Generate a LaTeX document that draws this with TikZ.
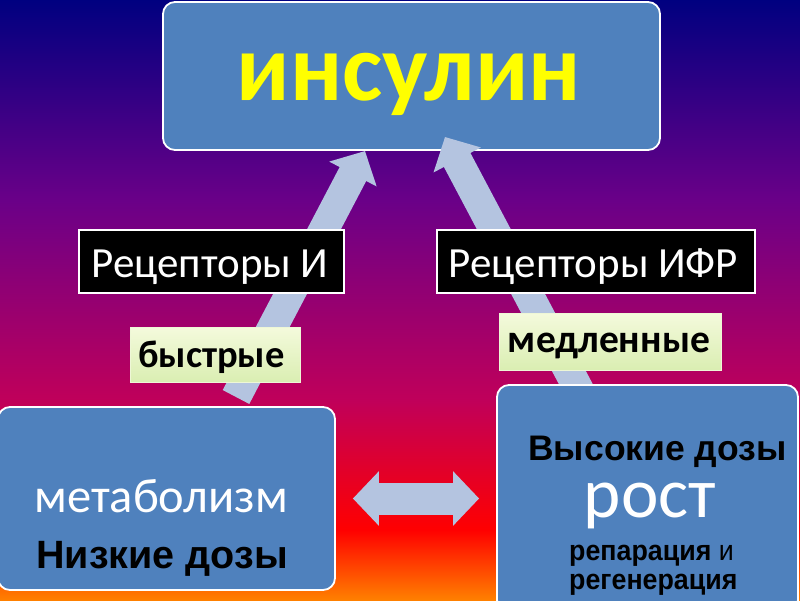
\documentclass[tikz,border=0pt]{standalone}
\usepackage{fontspec}
\setmainfont{Carlito}
\newfontfamily\arialf{Liberation Sans}
\newfontfamily\arialn[FakeStretch=0.94]{Liberation Sans}
\usetikzlibrary{arrows.meta,calc}
\definecolor{boxblue}{HTML}{4F81BD}
\definecolor{arrowblue}{HTML}{B4C4E0}
\definecolor{bgA}{HTML}{000080}
\definecolor{bgB}{HTML}{6A0088}
\definecolor{bgC}{HTML}{C0005A}
\definecolor{bgD}{HTML}{FF0000}
\definecolor{bgE}{HTML}{FF8000}
\definecolor{greentop}{HTML}{F4FADC}
\definecolor{greenbot}{HTML}{DAEEB2}
\definecolor{greenedge}{HTML}{EEF7D6}
\definecolor{insyellow}{HTML}{FFFF00}
\begin{document}
\begin{tikzpicture}[x=1pt,y=-1pt,
  bluebox/.style={draw=white, line width=1.8pt, fill=boxblue, rounded corners=12pt, inner sep=0pt},
  blackbox/.style={draw=white, line width=1.8pt, fill=black, inner sep=0pt},
  greenbox/.style={draw=greenedge, line width=1pt, top color=greentop, bottom color=greenbot, inner sep=0pt},
  fatarrow/.style={draw=arrowblue, line width=30pt, -{Triangle[length=26pt,width=52pt]}},
  dblarrow/.style={draw=arrowblue, line width=32pt, {Triangle[length=26pt,width=53pt]}-{Triangle[length=26pt,width=53pt]}},
  txt/.style={anchor=base, inner sep=0pt}]
\useasboundingbox (0,0) rectangle (800,600);
% background gradient
\fill[top color=bgA, bottom color=bgB] (0,0) rectangle (800,200.5);
\fill[top color=bgB, bottom color=bgC] (0,200) rectangle (800,400.5);
\fill[top color=bgC, bottom color=bgD] (0,400) rectangle (800,530.5);
\fill[top color=bgD, bottom color=bgE] (0,530) rectangle (800,600);
% top box
\node[bluebox, minimum width=497pt, minimum height=148pt] (ins) at (411.5,76) {};
% connector ends
\coordinate (lfoot) at (236,397);
\coordinate (ltip) at (365,151);
\coordinate (rfoot) at (580,392);
\coordinate (rtip) at (445,137);
\draw[fatarrow] (lfoot) -- (ltip);
\draw[fatarrow] (rfoot) -- (rtip);
% receptor boxes
\node[blackbox, minimum width=265pt, minimum height=63pt] (recI) at (211.5,261.5) {};
\node[blackbox, minimum width=318pt, minimum height=63pt] (recIFR) at (596,261.5) {};
% speed boxes
\node[greenbox, minimum width=170pt, minimum height=55pt] (fast) at (215.5,354.5) {};
\node[greenbox, minimum width=222pt, minimum height=57pt] (slow) at (610.5,341.5) {};
% bottom boxes
\node[bluebox, minimum width=337pt, minimum height=183pt] (met) at (166.5,498.5) {};
\node[bluebox, minimum width=301pt, minimum height=227pt] (rost) at (647.5,498.5) {};
\draw[dblarrow] ([xshift=17pt]met.east) -- ([xshift=-17pt]met.east -| rost.west);
% texts
\node[txt, text=insyellow, font=\bfseries\fontsize{96}{96}\selectfont] (tins) at (409,100) {инсулин};
\node[txt, text=white, font=\fontsize{43}{43}\selectfont] (trI) at (210,277) {Рецепторы И};
\node[txt, text=white, font=\fontsize{43}{43}\selectfont] (trIFR) at (593.5,277) {Рецепторы ИФР};
\node[txt, text=black, font=\bfseries\fontsize{38.5}{38.5}\selectfont] (tfast) at (211.5,367) {быстрые};
\node[txt, text=black, font=\bfseries\fontsize{39.5}{39.5}\selectfont] (tslow) at (609,352) {медленные};
\node[txt, text=white, font=\fontsize{48.5}{48.5}\selectfont] (tmet) at (161,512) {метаболизм};
\node[txt, text=black, font=\arialf\bfseries\fontsize{39.5}{39.5}\selectfont] (tlow) at (162,568) {Низкие дозы};
\node[txt, text=black, font=\arialf\bfseries\fontsize{35.5}{35.5}\selectfont] (thigh) at (657.5,460) {Высокие дозы};
\node[txt, text=white, font=\fontsize{71}{71}\selectfont] (trost) at (650,517) {рост};
\node[txt, anchor=base west, text=black, font=\arialn\fontsize{28.5}{28.5}\selectfont] (trep) at (569,560) {\bfseries репарация\mdseries{} и};
\node[txt, anchor=base west, text=black, font=\arialn\bfseries\fontsize{28.5}{28.5}\selectfont] (treg) at (569,589) {регенерация};
\end{tikzpicture}
\end{document}
